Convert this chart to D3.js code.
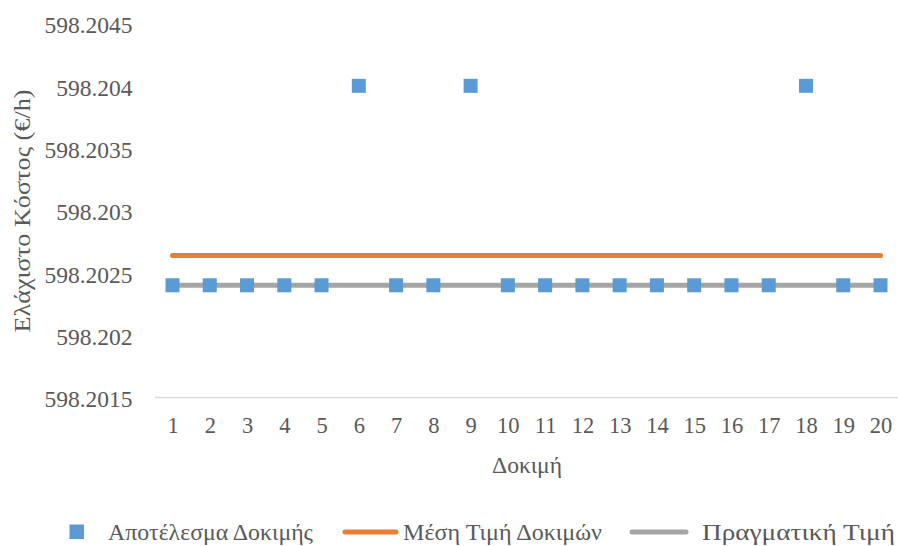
<!DOCTYPE html>
<html>
<head>
<meta charset="utf-8">
<script src="https://cdn.jsdelivr.net/npm/d3@7"></script>
<style>
  html, body { margin: 0; padding: 0; background: #fff; }
  svg text { font-family: "Liberation Serif", "Times New Roman", Times, "DejaVu Serif", serif; }
</style>
</head>
<body>
<svg id="chart" width="898" height="546"></svg>
<script>
// Trial numbers and the cost found in each trial
const trials = d3.range(1, 21);
const trialCosts = [
  598.2024, 598.2024, 598.2024, 598.2024, 598.2024,
  598.2040, 598.2024, 598.2024, 598.2040, 598.2024,
  598.2024, 598.2024, 598.2024, 598.2024, 598.2024,
  598.2024, 598.2024, 598.2040, 598.2024, 598.2024
];
const meanCost = d3.mean(trialCosts);   // Μέση Τιμή Δοκιμών
const trueCost = 598.2024;              // Πραγματική Τιμή
const yTicks = [598.2015, 598.202, 598.2025, 598.203, 598.2035, 598.204, 598.2045];
const legendLabels = ["Αποτέλεσμα Δοκιμής", "Μέση Τιμή Δοκιμών", "Πραγματική Τιμή"];

const colors = { points: "#5B9BD5", mean: "#ED7D31", truth: "#A5A5A5" };
const textColor = "#595959";
const serif = "'Liberation Serif', 'Times New Roman', Times, 'DejaVu Serif', serif";

const svg = d3.select("#chart").attr("font-family", serif);
const plot = { left: 155, right: 898, top: 23.5, bottom: 397.5 };

const x = d3.scalePoint()
  .domain(trials)
  .range([172.5, 880.5]);

const y = d3.scaleLinear()
  .domain([598.2015, 598.2045])
  .range([plot.bottom, plot.top]);

// Category axis: baseline only, labels under each trial
svg.append("line")
  .attr("x1", plot.left).attr("x2", plot.right)
  .attr("y1", plot.bottom).attr("y2", plot.bottom)
  .attr("stroke", "#D9D9D9").attr("stroke-width", 1.5);

const xAxis = svg.append("g")
  .attr("transform", `translate(0,${plot.bottom})`)
  .call(d3.axisBottom(x).tickSize(0).tickPadding(20))
  .attr("font-family", serif).attr("font-size", 22.5);
xAxis.select(".domain").remove();
xAxis.selectAll("text").attr("fill", textColor);

// Value axis: labels only
const yAxis = svg.append("g")
  .attr("transform", `translate(132.5,0)`)
  .call(d3.axisLeft(y).tickValues(yTicks).tickSize(0).tickPadding(0)
    .tickFormat(d => String(+d.toFixed(4))))
  .attr("font-family", serif).attr("font-size", 23.5);
yAxis.select(".domain").remove();
yAxis.selectAll("text")
  .attr("fill", textColor)
  .attr("dy", "0.4em");

// Reference lines
const hline = (value, color) => svg.append("line")
  .attr("x1", x(trials[0])).attr("x2", x(trials[trials.length - 1]))
  .attr("y1", y(value)).attr("y2", y(value))
  .attr("stroke", color).attr("stroke-width", 5)
  .attr("stroke-linecap", "round");
hline(meanCost, colors.mean);
hline(trueCost, colors.truth);

// Trial results
const size = 14;
svg.append("g").selectAll("rect")
  .data(trials.map((t, i) => ({ t, v: trialCosts[i] })))
  .join("rect")
  .attr("x", d => x(d.t) - size / 2)
  .attr("y", d => y(d.v) - size / 2)
  .attr("width", size).attr("height", size)
  .attr("fill", colors.points);

// Axis titles
svg.append("text")
  .attr("x", 527).attr("y", 465).attr("dy", "0.35em")
  .attr("text-anchor", "middle")
  .attr("fill", textColor)
  .attr("font-size", 22.5)
  .attr("textLength", 70)
  .attr("lengthAdjust", "spacingAndGlyphs")
  .text("Δοκιμή");

svg.append("text")
  .attr("transform", "translate(22,211) rotate(-90)")
  .attr("dy", "0.35em")
  .attr("text-anchor", "middle")
  .attr("fill", textColor)
  .attr("font-size", 22.5)
  .attr("textLength", 243)
  .attr("lengthAdjust", "spacingAndGlyphs")
  .text("Ελάχιστο Κόστος (€/h)");

// Legend
const ly = 532;
const legend = svg.append("g");
legend.append("rect")
  .attr("x", 69.5).attr("y", ly - 7.5).attr("width", 14.5).attr("height", 14.5)
  .attr("fill", colors.points);
legend.append("line")
  .attr("x1", 345).attr("x2", 396).attr("y1", ly).attr("y2", ly)
  .attr("stroke", colors.mean).attr("stroke-width", 5).attr("stroke-linecap", "round");
legend.append("line")
  .attr("x1", 632).attr("x2", 686).attr("y1", ly).attr("y2", ly)
  .attr("stroke", colors.truth).attr("stroke-width", 5).attr("stroke-linecap", "round");

const legendText = [
  { x: 108, w: 205 },
  { x: 403, w: 199 },
  { x: 702, w: 193 }
];
legend.selectAll("text.lbl")
  .data(legendLabels)
  .join("text")
  .attr("class", "lbl")
  .attr("x", (d, i) => legendText[i].x)
  .attr("y", ly).attr("dy", "0.35em")
  .attr("fill", textColor)
  .attr("font-size", 22.5)
  .attr("textLength", (d, i) => legendText[i].w)
  .attr("lengthAdjust", "spacingAndGlyphs")
  .text(d => d);
</script>
</body>
</html>
